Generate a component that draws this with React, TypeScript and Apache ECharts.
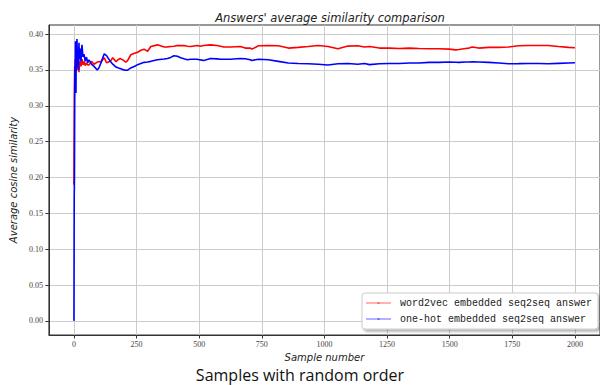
import React, { useEffect, useRef } from "react";
import * as echarts from "echarts";

const chartTitle = "Answers' average similarity comparison";
const xAxisName = "Sample number";
const yAxisName = "Average cosine similarity";
const caption = "Samples with random order";
const seriesNames = ["word2vec embedded seq2seq answer", "one-hot embedded seq2seq answer"];

const xTicks = [0, 250, 500, 750, 1000, 1250, 1500, 1750, 2000];
const yTicks = [0, 0.05, 0.1, 0.15, 0.2, 0.25, 0.3, 0.35, 0.4];

const sampleX = [
  0, 1, 2, 3, 4, 5, 6, 7, 8, 9,
  10, 12, 14, 16, 18, 20, 22, 25, 28, 32,
  36, 40, 45, 50, 55, 60, 70, 80, 93, 100,
  110, 121, 130, 145, 155, 168, 175, 184, 195, 207,
  214, 227, 247, 254, 267, 280, 294, 307, 333, 360,
  373, 386, 399, 413, 426, 439, 453, 466, 492, 505,
  518, 545, 571, 585, 598, 624, 664, 684, 704, 710,
  737, 776, 816, 856, 895, 935, 975, 1014, 1054, 1094,
  1133, 1160, 1180, 1219, 1259, 1299, 1339, 1378, 1418, 1458,
  1498, 1524, 1537, 1563, 1577, 1590, 1616, 1656, 1696, 1735,
  1775, 1815, 1855, 1894, 1934, 1974, 2000,
];

const word2vecValues = [
  0.19, 0.273, 0.33, 0.355, 0.34, 0.365, 0.35, 0.362, 0.37, 0.358,
  0.348, 0.36, 0.372, 0.352, 0.366, 0.347, 0.358, 0.362, 0.355, 0.365,
  0.357, 0.362, 0.356, 0.36, 0.357, 0.357, 0.362, 0.358, 0.361, 0.3615,
  0.362, 0.367, 0.36, 0.362, 0.367, 0.3615, 0.364, 0.366, 0.364, 0.361,
  0.363, 0.3712, 0.374, 0.3745, 0.3775, 0.379, 0.376, 0.3828, 0.385, 0.382,
  0.3822, 0.3828, 0.383, 0.384, 0.384, 0.384, 0.383, 0.3828, 0.384, 0.383,
  0.384, 0.385, 0.384, 0.383, 0.382, 0.382, 0.3828, 0.3805, 0.3805, 0.379,
  0.3838, 0.384, 0.3838, 0.3805, 0.3815, 0.3828, 0.3842, 0.3828, 0.3795, 0.3833,
  0.3838, 0.382, 0.3828, 0.3805, 0.3805, 0.38, 0.3805, 0.38, 0.3795, 0.3795,
  0.379, 0.378, 0.3785, 0.38, 0.3805, 0.382, 0.3805, 0.3815, 0.3815, 0.382,
  0.3838, 0.3842, 0.3842, 0.3842, 0.3828, 0.3815, 0.381,
];

const oneHotValues = [
  0.0, 0.171, 0.2, 0.32, 0.355, 0.345, 0.39, 0.36, 0.318, 0.37,
  0.35, 0.393, 0.36, 0.375, 0.35, 0.388, 0.365, 0.38, 0.362, 0.385,
  0.368, 0.372, 0.362, 0.368, 0.36, 0.364, 0.358, 0.355, 0.35, 0.353,
  0.362, 0.3725, 0.37, 0.362, 0.358, 0.354, 0.353, 0.352, 0.3505, 0.3496,
  0.3497, 0.3528, 0.356, 0.3574, 0.359, 0.3606, 0.361, 0.362, 0.3643, 0.3653,
  0.366, 0.3675, 0.3699, 0.369, 0.367, 0.3655, 0.3643, 0.365, 0.365, 0.364,
  0.3633, 0.366, 0.3655, 0.365, 0.365, 0.365, 0.366, 0.3657, 0.3643, 0.3633,
  0.365, 0.3643, 0.362, 0.3597, 0.359, 0.3587, 0.358, 0.357, 0.3587, 0.359,
  0.358, 0.359, 0.3574, 0.3587, 0.359, 0.359, 0.3597, 0.3597, 0.3606, 0.3606,
  0.361, 0.3608, 0.3606, 0.361, 0.361, 0.3612, 0.361, 0.3606, 0.3597, 0.3587,
  0.3588, 0.359, 0.359, 0.3587, 0.3592, 0.3597, 0.36,
];

const seriesColors = ["#ff0000", "#0000ff"];
const legendColors = ["rgba(255,0,0,0.6)", "rgba(0,0,255,0.6)"];

export default function App() {
  const ref = useRef<HTMLDivElement>(null);

  useEffect(() => {
    document.body.style.margin = "0";
    if (!ref.current) return;
    const chart = echarts.init(ref.current, null, { renderer: "svg" });
    const tickFont = { fontFamily: "Liberation Serif", fontSize: 8, color: "#444" };
    const legendIcon = "path://M0,4.4L11.5,4.4L11.5,4L13.5,4L13.5,4.4L25,4.4L25,5.6L13.5,5.6L13.5,6L11.5,6L11.5,5.6L0,5.6Z";
    chart.setOption({
      animation: false,
      backgroundColor: "#ffffff",
      title: {
        text: chartTitle,
        left: 325,
        top: 7,
        textAlign: "center",
        textStyle: {
          fontFamily: "DejaVu Sans",
          fontStyle: "italic",
          fontWeight: "normal",
          fontSize: 11.5,
          color: "#222",
        },
      },
      grid: {
        left: 47.5,
        top: 25,
        right: -2,
        bottom: 50,
        show: true,
        borderColor: "#333",
        borderWidth: 1,
        backgroundColor: "transparent",
        containLabel: false,
      },
      legend: {
        orient: "vertical",
        left: 362,
        top: 293,
        padding: [5, 6, 5, 4],
        itemWidth: 25,
        itemHeight: 10,
        itemGap: 6,
        backgroundColor: "#ffffff",
        borderColor: "#cccccc",
        borderWidth: 1,
        borderRadius: 3,
        shadowBlur: 3,
        shadowOffsetX: 2,
        shadowOffsetY: 2,
        shadowColor: "rgba(0,0,0,0.35)",
        textStyle: {
          fontFamily: "Liberation Mono",
          fontSize: 10,
          color: "#222",
          padding: [0, 0, 0, 4],
        },
        data: seriesNames.map((n, i) => ({
          name: n,
          icon: legendIcon,
          itemStyle: { color: legendColors[i] },
        })),
      },
      xAxis: {
        type: "value",
        min: -100,
        max: 2100,
        name: xAxisName,
        nameLocation: "middle",
        nameGap: 15,
        nameTextStyle: {
          fontFamily: "DejaVu Sans",
          fontStyle: "italic",
          fontSize: 10,
          color: "#222",
        },
        axisLine: { onZero: false, lineStyle: { color: "#333", width: 1 } },
        axisTick: {
          show: true,
          length: 3.5,
          customValues: xTicks,
          lineStyle: { color: "#333" },
        },
        axisLabel: {
          ...tickFont,
          margin: 5,
          customValues: xTicks,
          formatter: (v: number) => String(v),
        },
        splitLine: { show: true, lineStyle: { color: "#cccccc", width: 1 } },
      },
      yAxis: {
        type: "value",
        min: -0.0197,
        max: 0.4127,
        name: yAxisName,
        nameLocation: "middle",
        nameRotate: 90,
        nameGap: 23,
        nameTextStyle: {
          fontFamily: "DejaVu Sans",
          fontStyle: "italic",
          fontSize: 10,
          color: "#222",
        },
        axisLine: { show: true, onZero: false, lineStyle: { color: "#333", width: 1 } },
        axisTick: {
          show: true,
          length: 3.5,
          customValues: yTicks,
          lineStyle: { color: "#333" },
        },
        axisLabel: {
          ...tickFont,
          margin: 6,
          customValues: yTicks,
          formatter: (v: number) => v.toFixed(2),
        },
        splitLine: { show: true, lineStyle: { color: "#cccccc", width: 1 } },
      },
      series: [
        {
          name: seriesNames[0],
          type: "line",
          data: sampleX.map((x, i) => [x, word2vecValues[i]]),
          showSymbol: false,
          symbol: "none",
          lineStyle: { color: seriesColors[0], width: 1.6 },
          itemStyle: { color: seriesColors[0] },
          z: 2,
        },
        {
          name: seriesNames[1],
          type: "line",
          data: sampleX.map((x, i) => [x, oneHotValues[i]]),
          showSymbol: false,
          symbol: "none",
          lineStyle: { color: seriesColors[1], width: 1.6 },
          itemStyle: { color: seriesColors[1] },
          z: 3,
        },
      ],
      graphic: [
        {
          type: "text",
          x: 300,
          y: 375,
          style: {
            text: caption,
            fontFamily: "Open Sans",
            fontSize: 16,
            fill: "#111",
            textAlign: "center",
            textVerticalAlign: "middle",
          },
        },
      ],
    });
    return () => chart.dispose();
  }, []);

  return <div ref={ref} style={{ width: 600, height: 385 }} />;
}
